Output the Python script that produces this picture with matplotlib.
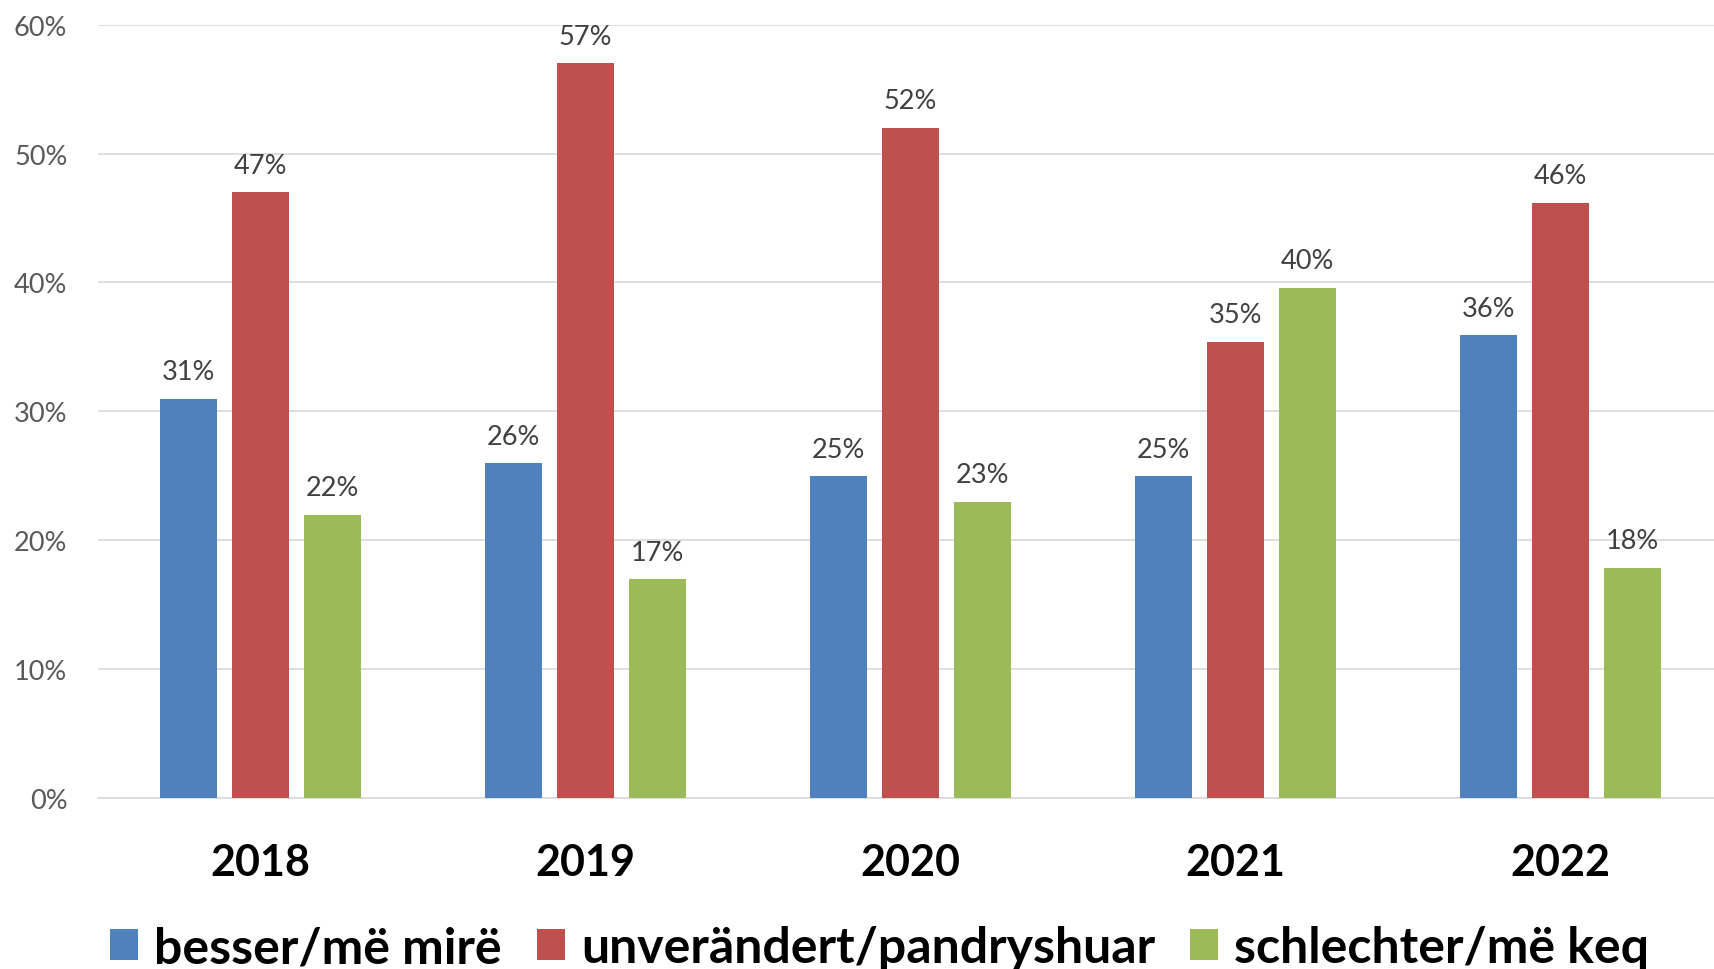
import matplotlib.pyplot as plt
import numpy as np

# Data
years = ["2018", "2019", "2020", "2021", "2022"]
besser = [31, 26, 25, 25, 35.9]
unveraendert = [47, 57, 52, 35.4, 46.2]
schlechter = [22, 17, 23, 39.6, 17.9]
labels_besser = ["31%", "26%", "25%", "25%", "36%"]
labels_unver = ["47%", "57%", "52%", "35%", "46%"]
labels_schl = ["22%", "17%", "23%", "40%", "18%"]
series_names = ["besser/më mirë", "unverändert/pandryshuar", "schlechter/më keq"]
colors = ["#4F81BD", "#C0504D", "#9BBB59"]

plt.rcParams['font.family'] = ['Lato', 'DejaVu Sans']

fig = plt.figure(figsize=(17.15, 9.70), dpi=100)
ax = fig.add_axes([0.0571, 0.1758, 0.9429, 0.7979])

x = np.arange(len(years))
width = 0.175
offset = 0.2215

all_series = [besser, unveraendert, schlechter]
all_labels = [labels_besser, labels_unver, labels_schl]
handles = []
for i, (vals, labs) in enumerate(zip(all_series, all_labels)):
    pos = x + (i - 1) * offset
    bars = ax.bar(pos, vals, width, color=colors[i], label=series_names[i], zorder=3)
    handles.append(bars)
    for xp, v, lab in zip(pos, vals, labs):
        ax.annotate(lab, (xp, v), xytext=(0, 14), textcoords="offset points",
                    ha="center", va="baseline", fontsize=19.5, color="#404040")

ax.set_xlim(-0.5, 4.475)
ax.set_ylim(0, 60)
ax.set_yticks(range(0, 61, 10))
ax.set_yticklabels([f"{v}%" for v in range(0, 61, 10)], fontsize=19.5, color="#595959")
ax.set_xticks(x)
ax.set_xticklabels(years, fontsize=31, fontweight="bold", color="black")
ax.tick_params(axis="y", length=0, pad=22)
ax.tick_params(axis="x", length=0, pad=31)
ax.grid(axis="y", color="#D9D9D9", linewidth=1.2, zorder=0)
for s in ["top", "right", "left"]:
    ax.spines[s].set_visible(False)
ax.spines["bottom"].set_color("#D9D9D9")
ax.spines["bottom"].set_linewidth(1.2)

fig.legend(handles=handles, labels=series_names, loc="center",
           bbox_to_anchor=(0.513, 0.022), ncol=3, frameon=False,
           prop={"size": 36, "weight": "bold"},
           handlelength=0.55, handleheight=0.55, handletextpad=0.33,
           columnspacing=0.7, borderpad=0)

fig.savefig("out.png", dpi=100)
